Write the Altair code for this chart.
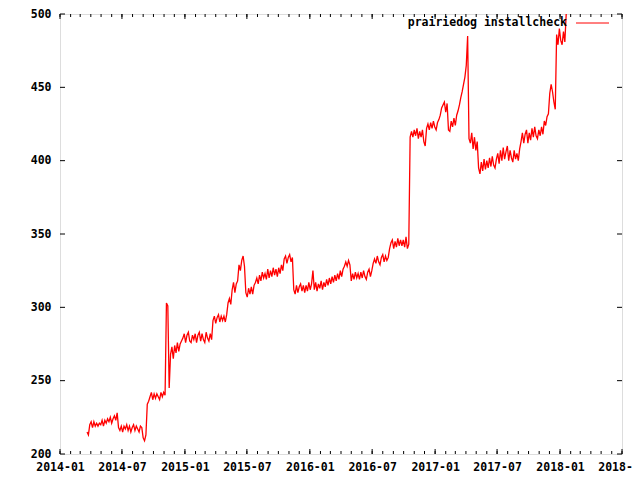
import altair as alt
import pandas as pd

# Series, one value every 4 days starting 2014-03-21
values_part1 = [
    215, 213, 220, 222, 218, 222, 219, 221, 219, 221,
    220, 223, 219, 223, 221, 224, 222, 225, 221, 224,
    226, 223, 228, 218, 216, 219, 215, 219, 217, 220,
    216, 219, 215, 218, 220, 216, 219, 217, 215, 219,
    218, 211, 209, 213, 234, 236, 239, 242, 237, 241,
    238, 241, 239, 237, 242, 239, 242, 240, 303, 301,
    245, 268, 273, 265, 274, 269, 276, 270, 275, 277,
    279, 282, 276, 281, 283, 277, 276, 281, 278, 282,
    276, 281, 283, 277, 282, 278, 276, 283, 279, 277,
]
values_part2 = [
    282, 278, 291, 294, 289, 293, 295, 290, 294, 291,
    294, 290, 295, 303, 306, 302, 312, 317, 310, 316,
    318, 329, 325, 332, 335, 328, 310, 307, 313, 309,
    314, 309, 315, 317, 320, 316, 322, 318, 324, 320,
    323, 319, 326, 320, 325, 321, 327, 322, 326, 321,
    327, 323, 329, 325, 333, 335, 330, 334, 336, 331,
    334, 312, 309, 315, 310, 314, 316, 311, 315, 310,
    315, 311, 317, 312, 316, 325, 312, 317, 311, 316,
    313, 318, 312, 317, 314, 319, 315, 320, 316, 321,
]
values_part3 = [
    317, 322, 318, 323, 319, 325, 321, 326, 328, 331,
    328, 332, 329, 318, 323, 319, 324, 320, 323, 319,
    324, 320, 325, 321, 319, 324, 326, 321, 325, 330,
    333, 330, 335, 331, 329, 334, 336, 331, 335, 332,
    334, 340, 344, 346, 340, 345, 341, 347, 342, 346,
    342, 346, 341, 348, 340, 343, 416, 420, 416, 421,
    417, 422, 415, 420, 416, 421, 413, 410, 422, 425,
    421, 426, 422, 427, 423, 421, 426, 428, 431, 436,
    438, 440, 433, 439, 421, 420, 427, 423, 429, 424,
]
values_part4 = [
    431, 434, 438, 443, 447, 452, 457, 465, 485, 415,
    412, 419, 408, 416, 407, 413, 395, 391, 399, 393,
    401, 394, 400, 395, 402, 396, 403, 397, 395, 401,
    405, 398, 407, 400, 409, 401, 406, 410, 400, 407,
    402, 399, 407, 401, 405, 400, 408, 413, 419, 412,
    418, 421, 412, 419, 414, 422, 416, 423, 417, 415,
    421, 417, 423, 418, 427, 424, 430, 432, 446, 452,
    447, 440, 435, 486, 479, 490, 482, 479, 488, 481, 500,
]
values = values_part1 + values_part2 + values_part3 + values_part4
dates = pd.date_range("2014-03-21", periods=len(values), freq="4D")

series_name = "prairiedog installcheck"
x_tick_labels = ["2014-01", "2014-07", "2015-01", "2015-07", "2016-01",
                 "2016-07", "2017-01", "2017-07", "2018-01", "2018-07"]
y_ticks = [200, 250, 300, 350, 400, 450, 500]

W, H = 562, 440
FONT = "DejaVu Sans Mono"
FS = 11.5

df = pd.DataFrame({"date": dates, "installcheck": values})
major_df = pd.DataFrame({"date": pd.to_datetime([s + "-01" for s in x_tick_labels])})
minor_df = pd.DataFrame({"date": pd.date_range("2014-01-01", "2018-07-01", freq="MS")})
ytick_df = pd.DataFrame({"v": y_ticks})
legend_df = pd.DataFrame({"label": [series_name]})

def dt(s):
    y, m = s.split("-")
    return alt.DateTime(year=int(y), month=int(m), date=1)

xscale = alt.Scale(domain=[dt("2014-01"), dt("2018-07")])
yscale = alt.Scale(domain=[200, 500], nice=False, zero=False)

label_style = dict(labelFont=FONT, labelFontSize=FS, labelFontWeight="bold",
                   labelColor="black", ticks=False, domain=False, grid=False, title=None)

line = alt.Chart(df).mark_line(color="#ff0000", strokeWidth=1.3, clip=True).encode(
    x=alt.X("date:T", scale=xscale,
            axis=alt.Axis(values=[dt(s) for s in x_tick_labels], format="%Y-%m",
                          labelPadding=7, labelAngle=0, labelFlush=False,
                          labelOverlap=False, **label_style)),
    y=alt.Y("installcheck:Q", scale=yscale,
            axis=alt.Axis(values=y_ticks, labelPadding=9, **label_style)),
)

def xticks(data, length, bottom):
    if bottom:
        return alt.Chart(data).mark_rule(color="black", strokeWidth=1).encode(
            x=alt.X("date:T"), y=alt.value(H), y2=alt.value(H - length))
    return alt.Chart(data).mark_rule(color="black", strokeWidth=1).encode(
        x=alt.X("date:T"), y=alt.value(0), y2=alt.value(length))

ytl = alt.Chart(ytick_df).mark_rule(color="black", strokeWidth=1).encode(
    y=alt.Y("v:Q"), x=alt.value(0), x2=alt.value(5))
ytr = alt.Chart(ytick_df).mark_rule(color="black", strokeWidth=1).encode(
    y=alt.Y("v:Q"), x=alt.value(W), x2=alt.value(W - 5))

legend_text = alt.Chart(legend_df).mark_text(
    align="right", baseline="middle", font=FONT, fontSize=FS, fontWeight="bold", color="black"
).encode(x=alt.value(507), y=alt.value(9), text="label:N")
legend_line = alt.Chart(legend_df).mark_rule(color="#ff0000", strokeWidth=1).encode(
    x=alt.value(516), x2=alt.value(549), y=alt.value(9))

chart = alt.layer(
    line,
    xticks(minor_df, 3, True), xticks(minor_df, 3, False),
    xticks(major_df, 5, True), xticks(major_df, 5, False),
    ytl, ytr, legend_text, legend_line,
).properties(
    width=W, height=H,
    autosize=alt.AutoSizeParams(type="none"),
    padding={"left": 52, "top": 6, "right": 10, "bottom": 24},
).configure_view(stroke="black", strokeWidth=1).configure(background="white")

chart.save("out.html", embed_options={"renderer": "svg", "actions": False})
